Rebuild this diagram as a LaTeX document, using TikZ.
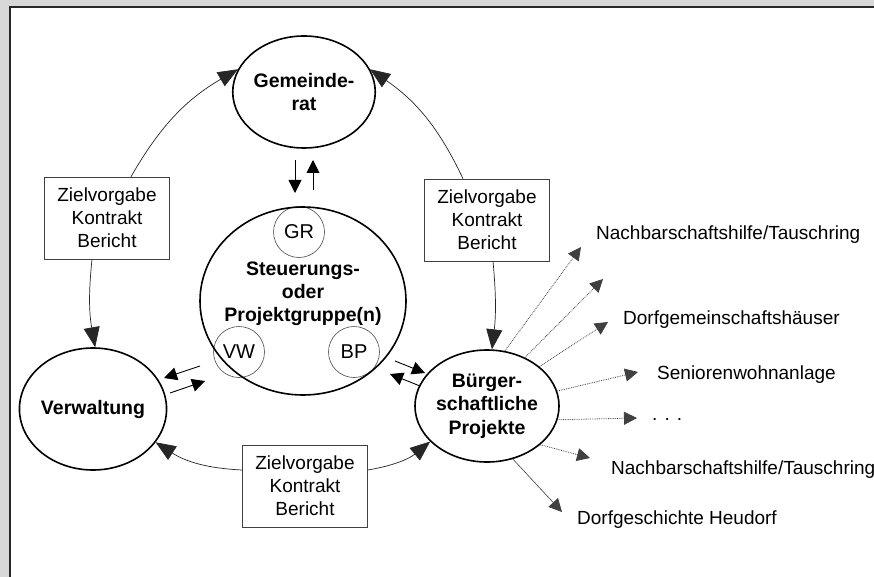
\documentclass[tikz,border=0pt]{standalone}
\usepackage{fontspec}
\setmainfont{Liberation Sans}
\usetikzlibrary{shapes.geometric,arrows.meta,calc}
\definecolor{bggrey}{RGB}{216,216,216}
\definecolor{framec}{RGB}{40,40,40}
\begin{document}
\begin{tikzpicture}[x=1pt,y=-1pt,
  big/.style={ellipse,draw,line width=1.6pt,inner sep=0pt,align=center,
    font=\fontsize{19.5}{23.5}\selectfont\bfseries},
  small/.style={circle,draw=black!70,line width=0.6pt,minimum size=51pt,inner sep=0pt,
    font=\fontsize{20}{24}\selectfont},
  zbox/.style={draw=black!75,line width=0.6pt,minimum width=125pt,minimum height=82pt,
    inner sep=0pt,align=center,font=\fontsize{19}{23}\selectfont},
  cyc/.style={draw=black!85,line width=0.7pt,-{Triangle[length=20pt,width=16pt]}},
  dbl/.style={draw=black,line width=0.9pt,-{Triangle[length=13pt,width=13pt]}},
  ray/.style={draw=black!75,line width=0.8pt,densely dotted,-{Triangle[length=13pt,width=13pt]}},
  sray/.style={draw=black!75,line width=0.6pt,-{Triangle[length=13pt,width=13pt]}},
  lab/.style={anchor=base west,inner sep=0pt,font=\fontsize{19}{23}\selectfont},
]
\useasboundingbox (0,0) rectangle (874,577);
\fill[bggrey] (0,0) rectangle (874,577);
\fill[white] (10,7) rectangle (874,577);
\draw[framec,line width=2pt] (10,577) -- (10,7) -- (874,7);

% small circles inside the steering group
\node[small] (sgr) at (299,232) {GR};
\node[small] (svw) at (239,352) {VW};
\node[small] (sbp) at (354,352) {BP};

% main nodes
\node[big,minimum width=124pt,minimum height=112pt] (gr) at (304,92) {Gemeinde-\\rat};
\node[big,minimum width=206pt,minimum height=188pt] (stg) at (303,301) {};
\node[font=\fontsize{19.5}{23}\selectfont\bfseries,align=center,inner sep=0pt] (stgt) at (303,294)
  {Steuerungs-\\oder\\Projektgruppe(n)};
\node[big,minimum width=124pt,minimum height=122pt] (ver) at (93,409) {Verwaltung};
\node[big,minimum width=124pt,minimum height=112pt] (bue) at (487,406) {Bürger-\\schaftliche\\Projekte};

% boxes
\node[zbox] (lbox) at (107,218) {Zielvorgabe\\Kontrakt\\Bericht};
\node[zbox] (rbox) at (487,220) {Zielvorgabe\\Kontrakt\\Bericht};
\node[zbox] (bbox) at (305,486) {Zielvorgabe\\Kontrakt\\Bericht};

% cycle arcs
\draw[cyc] ($(lbox.north)+(24,0)$) to[bend left=15] (gr.161);
\draw[cyc] ($(lbox.south)+(-15,0)$) to[bend right=8] (ver.88);
\draw[cyc] ($(rbox.north)+(-24,0)$) to[bend right=15] (gr.19);
\draw[cyc] ($(rbox.south)+(6,0)$) to[bend left=6] (bue.85);
\draw[cyc] ($(bbox.west)+(0,-16)$) to[bend left=15] (ver.-28);
\draw[cyc] ($(bbox.east)+(0,-16)$) to[bend right=15] (bue.-148);

% double arrows
\coordinate (a1s) at (295,160); \coordinate (a1e) at (295,193);
\coordinate (a2s) at (313,190); \coordinate (a2e) at (313,160);
\draw[dbl] (a1s) -- (a1e);
\draw[dbl] (a2s) -- (a2e);
\coordinate (b1s) at (200,366); \coordinate (b1e) at (164,378);
\coordinate (b2s) at (170,393); \coordinate (b2e) at (205,381);
\draw[dbl] (b1s) -- (b1e);
\draw[dbl] (b2s) -- (b2e);
\coordinate (c1s) at (395,361); \coordinate (c1e) at (425,373);
\coordinate (c2s) at (420,386); \coordinate (c2e) at (390,374);
\draw[dbl] (c1s) -- (c1e);
\draw[dbl] (c2s) -- (c2e);

% project rays
\coordinate (t1) at (581,247);
\coordinate (t2) at (603,279);
\coordinate (t3) at (608,322);
\coordinate (t4) at (638,372);
\coordinate (t5) at (637,418);
\coordinate (t6) at (590,458);
\coordinate (t7) at (562,512);
\draw[ray] (bue.72) -- (t1);
\draw[ray] (bue.52) -- (t2);
\draw[ray] (bue.37) -- (t3);
\draw[ray] (bue.12) -- (t4);
\draw[ray] (bue.-11) -- (t5);
\draw[ray] (bue.-36) -- (t6);
\draw[sray] (bue.-64) -- (t7);

\node[lab] (l1) at (596,239) {Nachbarschaftshilfe/Tauschring};
\node[lab] (l2) at (623,324) {Dorfgemeinschaftshäuser};
\node[lab] (l3) at (657,379) {Seniorenwohnanlage};
\node[lab] (l4) at (652,420) {. . .};
\node[lab] (l5) at (611,474) {Nachbarschaftshilfe/Tauschring};
\node[lab] (l6) at (577,524) {Dorfgeschichte Heudorf};
\end{tikzpicture}
\end{document}
